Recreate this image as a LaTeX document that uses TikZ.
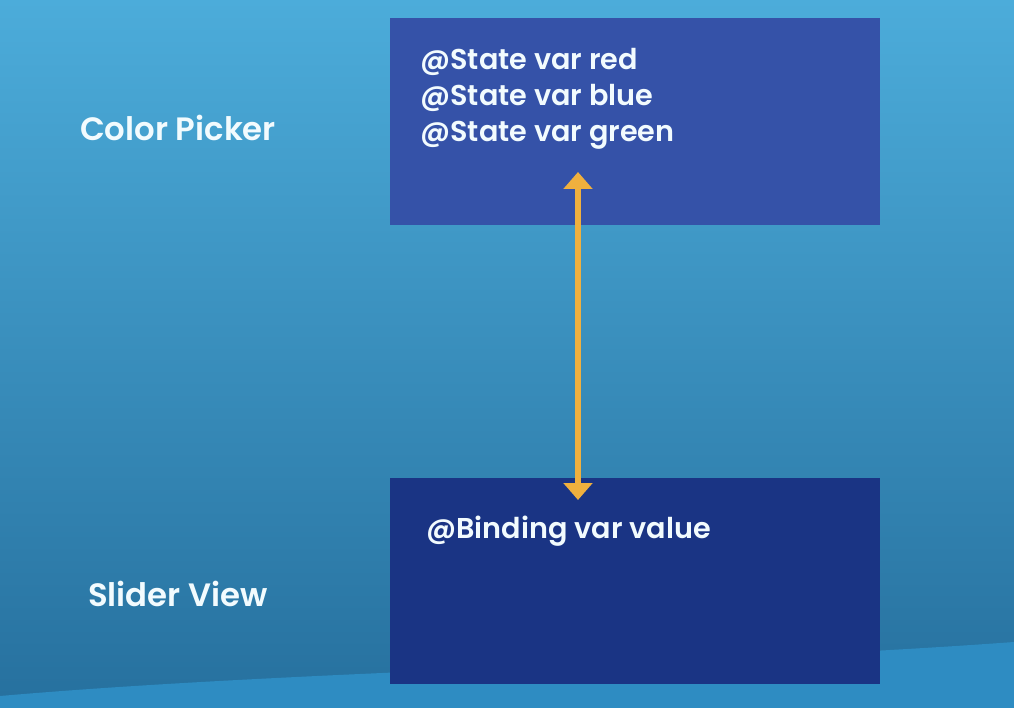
\documentclass[tikz,border=0pt]{standalone}
\usepackage{fontspec}
\setmainfont{Poppins}[UprightFont={* Medium},BoldFont={* SemiBold}]
\usetikzlibrary{arrows.meta}
\definecolor{skyTop}{RGB}{76,172,218}
\definecolor{skyBottom}{RGB}{38,112,158}
\definecolor{waveBand}{RGB}{46,140,194}
\definecolor{pickerFill}{RGB}{53,82,168}
\definecolor{sliderFill}{RGB}{26,52,132}
\definecolor{bindArrow}{RGB}{240,176,62}
\tikzset{
  view label/.style={text=white!95!cyan,font=\bfseries\fontsize{23}{26}\selectfont,anchor=base,inner sep=0pt},
  state box/.style={fill=pickerFill,draw=none,minimum width=490*0.025cm,minimum height=207*0.025cm,anchor=north west},
  binding box/.style={fill=sliderFill,draw=none,minimum width=490*0.025cm,minimum height=206*0.025cm,anchor=north west},
  prop text/.style={text=white!95!cyan,font=\bfseries\fontsize{20.4}{25.6}\selectfont,align=left,anchor=base west,inner sep=0pt},
  binding arrow/.style={line width=4pt,bindArrow,{Triangle[width=20pt,length=12pt]}-{Triangle[width=20pt,length=12pt]}},
}

\begin{document}
\begin{tikzpicture}[x=0.025cm,y=-0.025cm]
\useasboundingbox (0,0) rectangle (1014,708);
\shade[top color=skyTop,bottom color=skyBottom] (0,0) rectangle (1014,708);
\fill[waveBand] (0,708) -- (0,696) .. controls (300,670) and (700,665) .. (1014,642) -- (1014,708) -- cycle;
\node[state box] (picker) at (390,18) {};
\node[binding box] (slider) at (390,478) {};
\node[prop text] (pickerVars) at (420,142) {@State var red\\@State var blue\\@State var green};
\node[prop text] (sliderVars) at (426,538) {@Binding var value};
\node[view label] (pickerName) at (178,141) {Color Picker};
\node[view label] (sliderName) at (178,606) {Slider View};
\coordinate (pickerEnd) at (578,172);
\coordinate (sliderEnd) at (578,500);
\draw[binding arrow] (pickerEnd) -- (sliderEnd);
\end{tikzpicture}
\end{document}
